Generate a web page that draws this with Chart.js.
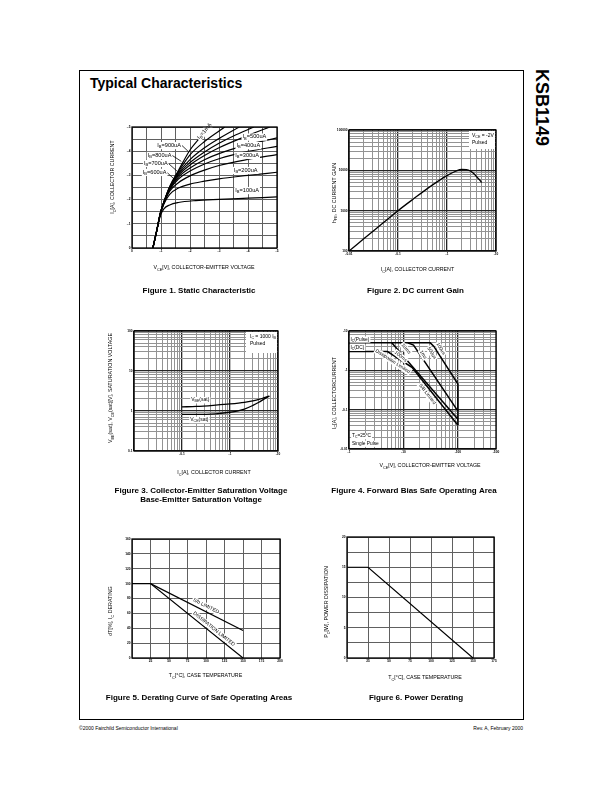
<!DOCTYPE html>
<html>
<head>
<meta charset="utf-8">
<title>KSB1149 Typical Characteristics</title>
<script src="https://cdn.jsdelivr.net/npm/chart.js@4.4.1/dist/chart.umd.min.js"></script>
<style>
  html, body { margin: 0; padding: 0; background: #fff; }
  #page { position: relative; width: 612px; height: 792px; overflow: hidden;
          font-family: "Liberation Sans", Arial, Helvetica, sans-serif; color: #000; }
  #frame { position: absolute; left: 79px; top: 70px; width: 443px; height: 648px; border: 1px solid #000; }
  #heading { position: absolute; left: 90px; top: 75px; font-size: 14px; font-weight: bold; }
  #partno { position: absolute; left: 531px; top: 69px; font-size: 18px; font-weight: bold; writing-mode: vertical-rl; }
  .foot { position: absolute; top: 725px; font-size: 5px; white-space: nowrap; }
  canvas { position: absolute; }
</style>
</head>
<body>
<div id="page">
  <div id="frame"></div>
  <div id="heading">Typical Characteristics</div>
  <div id="partno">KSB1149</div>
  <div class="foot" style="left:79px">©2000 Fairchild Semiconductor International</div>
  <div class="foot" style="right:89px">Rev. A, February 2000</div>
</div>
<script>
const FONT = '"Liberation Sans", Arial, Helvetica, sans-serif';
const GRID_LIN = '#606060';
const GRID_MINOR = '#939393';
const GRID_MAJOR = '#262626';

// ---------- Figure 1: static characteristic ----------
const ibLabels = ['100uA', '200uA', '300uA', '400uA', '500uA', '600uA', '700uA', '800uA', '900uA', '1mA'];
const ibVce = [
  [0.72, 0.85, 0.98, 1.1, 1.3, 1.6, 2.2, 3, 4, 5],
  [0.72, 0.85, 0.98, 1.1, 1.3, 1.6, 2, 2.5, 3, 4, 5],
  [0.72, 0.85, 0.98, 1.1, 1.3, 1.6, 2, 2.5, 3, 4, 5],
  [0.72, 0.85, 0.98, 1.1, 1.3, 1.6, 2, 2.5, 3, 4, 5],
  [0.72, 0.85, 0.98, 1.1, 1.3, 1.6, 2, 2.5, 3, 4, 5],
  [0.72, 0.85, 0.98, 1.1, 1.3, 1.6, 2, 2.5, 3, 4, 4.75],
  [0.72, 0.85, 0.98, 1.1, 1.3, 1.6, 2, 2.5, 3, 3.5, 4.2],
  [0.72, 0.85, 0.98, 1.1, 1.3, 1.6, 2, 2.5, 3, 3.7],
  [0.72, 0.85, 0.98, 1.1, 1.3, 1.6, 2, 2.5, 3.2],
  [0.72, 0.85, 0.98, 1.1, 1.3, 1.6, 2, 2.3, 2.65]
];
const ibIc = [
  [0, 0.07, 0.135, 0.162, 0.178, 0.188, 0.196, 0.201, 0.206, 0.211],
  [0, 0.07, 0.14, 0.182, 0.222, 0.248, 0.264, 0.276, 0.286, 0.3, 0.313],
  [0, 0.07, 0.142, 0.185, 0.235, 0.27, 0.298, 0.322, 0.341, 0.366, 0.386],
  [0, 0.07, 0.143, 0.187, 0.24, 0.285, 0.318, 0.347, 0.369, 0.399, 0.42],
  [0, 0.07, 0.144, 0.188, 0.243, 0.293, 0.331, 0.365, 0.39, 0.427, 0.455],
  [0, 0.07, 0.145, 0.189, 0.246, 0.3, 0.343, 0.382, 0.414, 0.465, 0.5],
  [0, 0.07, 0.145, 0.19, 0.248, 0.305, 0.353, 0.397, 0.433, 0.463, 0.5],
  [0, 0.07, 0.145, 0.19, 0.25, 0.31, 0.365, 0.414, 0.452, 0.5],
  [0, 0.07, 0.145, 0.19, 0.252, 0.315, 0.385, 0.44, 0.5],
  [0, 0.07, 0.145, 0.19, 0.254, 0.32, 0.405, 0.45, 0.5]
];
const staticVceGrid = [0, 0.5, 1, 1.5, 2, 2.5, 3, 3.5, 4, 4.5, 5];
const staticVceTicks = [0, 1, 2, 3, 4, 5];
const staticVceText = ['0', '-1', '-2', '-3', '-4', '-5'];
const staticIcGrid = [0, 0.05, 0.1, 0.15, 0.2, 0.25, 0.3, 0.35, 0.4, 0.45, 0.5];
const staticIcTicks = [0, 0.1, 0.2, 0.3, 0.4, 0.5];
const staticIcText = ['0', '-.1', '-.2', '-.3', '-.4', '-.5'];

// ---------- Figure 2: DC current gain ----------
const hfeIc = [0.01, 0.02, 0.05, 0.1, 0.2, 0.5, 1, 1.5, 2, 2.5, 3, 3.5, 4, 4.5, 5.1];
const hfeValues = [100, 200, 500, 1000, 1900, 4300, 7400, 9500, 10500, 10400, 9600, 8300, 7000, 6000, 5000];
const hfeIcTicks = [0.01, 0.1, 1, 10];
const hfeIcText = ['-0.01', '-0.1', '-1', '-10'];
const hfeTicks = [100, 1000, 10000, 100000];
const hfeText = ['100', '1000', '10000', '100000'];

// ---------- Figure 3: saturation voltages ----------
const satIc = [0.1, 0.2, 0.5, 1, 2, 3, 4, 5, 6.6];
const vbeSat = [1.27, 1.3, 1.4, 1.5, 1.65, 1.8, 1.95, 2.12, 2.37];
const vceSat = [0.82, 0.82, 0.85, 0.93, 1.12, 1.38, 1.65, 1.95, 2.37];
const satIcTicks = [0.1, 1, 10];
const satIcText = ['-0.1', '-1', '-10'];
const satVTicks = [0.1, 1, 10, 100];
const satVText = ['0.1', '1', '10', '100'];

// ---------- Figure 4: forward bias SOA ----------
const soaDcV = [1, 5.1, 14.3, 100];
const soaDcI = [3, 3, 1.19, 0.04];
const soa10msV = [6.1, 100];
const soa10msI = [5, 0.057];
const soa1msV = [12, 15.3, 100];
const soa1msI = [5, 4.37, 0.092];
const soa100usV = [1, 31, 35.9, 100, 100];
const soa100usI = [5, 5, 4.12, 0.45, 0.04];
const soaVTicks = [1, 10, 100, 500];
const soaVText = ['-1', '-10', '-100', '-500'];
const soaITicks = [0.01, 0.1, 1, 10];
const soaIText = ['-0.01', '-0.1', '-1', '-10'];

// ---------- Figure 5: derating of SOA ----------
const deratTemp = [0, 25, 150];
const deratDiss = [100, 100, 0];
const deratSbTemp = [25, 150];
const deratSb = [100, 37];
const deratTempGrid = [0, 25, 50, 75, 100, 125, 150, 175, 200];
const deratTempTicks = [25, 50, 75, 100, 125, 150, 175, 200];
const deratPctGrid = [0, 20, 40, 60, 80, 100, 120, 140, 160];

// ---------- Figure 6: power derating ----------
const pdTemp = [0, 25, 150];
const pdWatts = [15, 15, 0];
const pdTempGrid = [0, 25, 50, 75, 100, 125, 150, 175];
const pdWattGrid = [0, 2.5, 5, 7.5, 10, 12.5, 15, 17.5, 20];
const pdWattTicks = [0, 5, 10, 15, 20];

const figSpecs = {};

function decadeGrid(min, max) {
  const out = [];
  for (let e = Math.floor(Math.log10(min)); e <= Math.ceil(Math.log10(max)); e++) {
    for (let m = 1; m < 10; m++) {
      const v = +(m * Math.pow(10, e)).toPrecision(6);
      if (v >= min * 0.999 && v <= max * 1.001) out.push(v);
    }
  }
  if (out[out.length - 1] < max * 0.999) out.push(max);
  return out;
}

const isDecade = v => Math.abs(Math.log10(v) - Math.round(Math.log10(v))) < 1e-6;

function axis(kind, type, min, max, grid, tickAt, tickText, major) {
  return {
    type: type, min: min, max: max,
    afterBuildTicks: ax => { ax.ticks = grid.map(v => ({ value: v })); },
    afterFit: ax => { if (kind === 'x') ax.height = 8; else ax.width = 12; },
    border: { display: false },
    grid: {
      drawTicks: false,
      color: c => major ? (major(c.tick.value) ? GRID_MAJOR : GRID_MINOR) : GRID_LIN,
      lineWidth: c => (major && major(c.tick.value)) ? 1.3 : 1
    },
    ticks: {
      autoSkip: false, maxRotation: 0, minRotation: 0, padding: 1.5, color: '#000',
      font: { family: FONT, size: 3.2, weight: 'bold' },
      callback: v => {
        const i = tickAt.findIndex(t => Math.abs(t - v) <= Math.abs(t) * 1e-6 + 1e-9);
        return i < 0 ? '' : tickText[i];
      }
    }
  };
}

function series(xs, ys, width, smooth) {
  return {
    data: xs.map((x, i) => ({ x: x, y: ys[i] })),
    borderColor: '#000',
    borderWidth: width,
    pointRadius: 0,
    fill: false,
    tension: 0,
    cubicInterpolationMode: smooth ? 'monotone' : 'default'
  };
}

// text with {subscript} parts
function drawRich(ctx, str, x, y, size, o) {
  o = o || {};
  const weight = o.bold ? 'bold ' : '';
  const segs = str.split(/(\{[^}]*\})/).filter(p => p.length).map(p => {
    const sub = p.charAt(0) === '{';
    const txt = sub ? p.slice(1, -1) : p;
    const fs = sub ? size * 0.72 : size;
    ctx.font = weight + fs + 'px ' + FONT;
    return { txt: txt, sub: sub, fs: fs, w: ctx.measureText(txt).width };
  });
  const total = segs.reduce((s, g) => s + g.w, 0);
  ctx.save();
  ctx.translate(x, y);
  if (o.rot) ctx.rotate(o.rot * Math.PI / 180);
  let cx = o.align === 'left' ? 0 : o.align === 'right' ? -total : -total / 2;
  if (o.bg) {
    ctx.fillStyle = '#fff';
    ctx.fillRect(cx - 1, -size * 0.62, total + 2, size * 1.3);
  }
  ctx.fillStyle = '#000';
  ctx.textAlign = 'left';
  ctx.textBaseline = 'middle';
  segs.forEach(g => {
    ctx.font = weight + g.fs + 'px ' + FONT;
    ctx.fillText(g.txt, cx, g.sub ? size * 0.28 : 0);
    cx += g.w;
  });
  ctx.restore();
}

const sheetPlugin = {
  id: 'sheet',
  afterDatasetsDraw(chart) {
    const spec = figSpecs[chart.canvas.id];
    const ctx = chart.ctx;
    const a = chart.chartArea;
    const sx = chart.scales.x, sy = chart.scales.y;
    const box = spec.box;

    (spec.panels || []).forEach(p => {
      ctx.fillStyle = '#fff';
      ctx.fillRect(p.x - box.x, p.y - box.y, p.w, p.h);
    });
    (spec.leaders || []).forEach(l => {
      ctx.save();
      ctx.strokeStyle = '#000';
      ctx.lineWidth = 0.8;
      ctx.beginPath();
      ctx.moveTo(sx.getPixelForValue(l[0]), sy.getPixelForValue(l[1]));
      ctx.lineTo(sx.getPixelForValue(l[2]), sy.getPixelForValue(l[3]));
      ctx.stroke();
      ctx.restore();
    });
    (spec.notes || []).forEach(n => {
      drawRich(ctx, n.t, sx.getPixelForValue(n.x), sy.getPixelForValue(n.y), n.size || spec.noteSize,
        { rot: n.rot, bg: n.bg !== false, align: n.align });
    });
    (spec.pageNotes || []).forEach(n => {
      drawRich(ctx, n.t, n.x - box.x, n.y - box.y, n.size, { align: n.align });
    });

    ctx.save();
    ctx.strokeStyle = '#000';
    ctx.lineWidth = 1.3;
    ctx.strokeRect(Math.round(a.left), Math.round(a.top), Math.round(a.right) - Math.round(a.left), Math.round(a.bottom) - Math.round(a.top));
    ctx.restore();
  },
  afterDraw(chart) {
    const spec = figSpecs[chart.canvas.id];
    const ctx = chart.ctx;
    const box = spec.box;
    (spec.titles || []).forEach(t => {
      drawRich(ctx, t.t, t.x - box.x, t.y - box.y, t.size || 5.3, { rot: t.rot, bold: t.bold });
    });
  }
};

function buildFigure(id, box, plot, datasets, xAxis, yAxis, spec) {
  const cv = document.createElement('canvas');
  cv.id = id;
  cv.width = box.w;
  cv.height = box.h;
  cv.style.left = box.x + 'px';
  cv.style.top = box.y + 'px';
  document.getElementById('page').appendChild(cv);
  spec.box = box;
  figSpecs[id] = spec;
  return new Chart(cv.getContext('2d'), {
    type: 'line',
    data: { datasets: datasets },
    options: {
      responsive: false,
      animation: false,
      devicePixelRatio: 1,
      layout: {
        padding: {
          left: plot.l - box.x - 12,
          top: plot.t - box.y,
          right: box.x + box.w - plot.l - plot.w,
          bottom: box.y + box.h - plot.t - plot.h - 8
        }
      },
      plugins: { legend: { display: false }, tooltip: { enabled: false } },
      scales: { x: xAxis, y: yAxis }
    },
    plugins: [sheetPlugin]
  });
}

// Figure 1
buildFigure('fig1', { x: 95, y: 115, w: 205, h: 185 }, { l: 132, t: 127, w: 145, h: 121 },
  ibVce.map((v, i) => series(v, ibIc[i], 1.2, true)),
  axis('x', 'linear', 0, 5, staticVceGrid, staticVceTicks, staticVceText, null),
  axis('y', 'linear', 0, 0.5, staticIcGrid, staticIcTicks, staticIcText, null),
  {
    noteSize: 5.6,
    notes: [
      { t: 'I{B}=' + ibLabels[9], x: 2.5, y: 0.483, rot: -50 },
      { t: 'I{B}=' + ibLabels[8], x: 1.28, y: 0.424 },
      { t: 'I{B}=' + ibLabels[7], x: 0.95, y: 0.383 },
      { t: 'I{B}=' + ibLabels[6], x: 0.82, y: 0.35 },
      { t: 'I{B}=' + ibLabels[5], x: 0.78, y: 0.313 },
      { t: 'I{B}=' + ibLabels[4], x: 4.22, y: 0.459 },
      { t: 'I{B}=' + ibLabels[3], x: 4.01, y: 0.424 },
      { t: 'I{B}=' + ibLabels[2], x: 3.97, y: 0.383 },
      { t: 'I{B}=' + ibLabels[1], x: 3.92, y: 0.321 },
      { t: 'I{B}=' + ibLabels[0], x: 3.97, y: 0.238 }
    ],
    leaders: [[1.72, 0.424, 1.93, 0.4], [1.38, 0.383, 1.7, 0.358], [1.25, 0.35, 1.55, 0.318], [1.2, 0.313, 1.45, 0.285]],
    titles: [
      { t: 'V{CE}[V], COLLECTOR-EMITTER VOLTAGE', x: 204, y: 268 },
      { t: 'I{C}[A], COLLECTOR CURRENT', x: 113, y: 177, rot: -90 },
      { t: 'Figure 1. Static Characteristic', x: 199, y: 291, size: 8, bold: true }
    ]
  });

// Figure 2
buildFigure('fig2', { x: 300, y: 115, w: 220, h: 185 }, { l: 349, t: 130, w: 147, h: 121 },
  [series(hfeIc, hfeValues, 1.3, true)],
  axis('x', 'logarithmic', 0.01, 10, decadeGrid(0.01, 10), hfeIcTicks, hfeIcText, isDecade),
  axis('y', 'logarithmic', 100, 100000, decadeGrid(100, 100000), hfeTicks, hfeText, isDecade),
  {
    panels: [{ x: 469, y: 131, w: 26, h: 18 }],
    pageNotes: [
      { t: 'V{CE} = -2V', x: 472, y: 135.5, size: 5, align: 'left' },
      { t: 'Pulsed', x: 472, y: 142.5, size: 5, align: 'left' }
    ],
    titles: [
      { t: 'I{C}[A], COLLECTOR CURRENT', x: 417.5, y: 270 },
      { t: 'h{FE}, DC CURRENT GAIN', x: 334.5, y: 193, rot: -90 },
      { t: 'Figure 2. DC current Gain', x: 415.5, y: 291, size: 8, bold: true }
    ]
  });

// Figure 3
buildFigure('fig3', { x: 95, y: 318, w: 205, h: 190 }, { l: 134, t: 331, w: 144, h: 120 },
  [series(satIc, vbeSat, 1.3, true), series(satIc, vceSat, 1.3, true)],
  axis('x', 'logarithmic', 0.01, 10, decadeGrid(0.01, 10), satIcTicks, satIcText, isDecade),
  axis('y', 'logarithmic', 0.1, 100, decadeGrid(0.1, 100), satVTicks, satVText, isDecade),
  {
    noteSize: 5,
    notes: [
      { t: 'V{BE}(sat)', x: 0.24, y: 1.88 },
      { t: 'V{CE}(sat)', x: 0.23, y: 0.6 }
    ],
    panels: [{ x: 246, y: 332, w: 31, h: 21 }],
    pageNotes: [
      { t: 'I{C} = 1000 I{B}', x: 250, y: 337, size: 5, align: 'left' },
      { t: 'Pulsed', x: 250, y: 344, size: 5, align: 'left' }
    ],
    titles: [
      { t: 'I{C}[A], COLLECTOR CURRENT', x: 214, y: 473 },
      { t: 'V{BE}(sat), V{CE}(sat)[V], SATURATION VOLTAGE', x: 111, y: 388, rot: -90 },
      { t: 'Figure 3. Collector-Emitter Saturation Voltage', x: 201, y: 491, size: 8, bold: true },
      { t: 'Base-Emitter Saturation Voltage', x: 201, y: 500, size: 8, bold: true }
    ]
  });

// Figure 4
buildFigure('fig4', { x: 300, y: 318, w: 220, h: 190 }, { l: 349, t: 331, w: 147, h: 118 },
  [series(soaDcV, soaDcI, 1.5, false), series(soa10msV, soa10msI, 1.5, false),
   series(soa1msV, soa1msI, 1.5, false), series(soa100usV, soa100usI, 1.5, false)],
  axis('x', 'logarithmic', 1, 500, decadeGrid(1, 500), soaVTicks, soaVText, isDecade),
  axis('y', 'logarithmic', 0.01, 10, decadeGrid(0.01, 10), soaITicks, soaIText, isDecade),
  {
    noteSize: 4.8,
    notes: [
      { t: 'I{C}(Pulse)', x: 1.06, y: 6.1, align: 'left' },
      { t: 'I{C}(DC)', x: 1.06, y: 3.75, align: 'left' },
      { t: 'Dissipation Limited', x: 6.35, y: 1.7, rot: 33 },
      { t: 'S/B Limited', x: 27.4, y: 0.25, rot: 52 },
      { t: '100ms', x: 8.9, y: 2.27, rot: 40 },
      { t: '10ms', x: 11.1, y: 3.55, rot: 50 },
      { t: '1ms', x: 23.1, y: 2.5, rot: 60 },
      { t: '500us', x: 33, y: 2.76, rot: 60 },
      { t: '100us', x: 48.3, y: 3.55, rot: 60 },
      { t: 'T{C}=25°C', x: 1.14, y: 0.0214, align: 'left' },
      { t: 'Single Pulse', x: 1.14, y: 0.0137, align: 'left' }
    ],
    titles: [
      { t: 'V{CE}[V], COLLECTOR-EMITTER VOLTAGE', x: 430, y: 466 },
      { t: 'I{C}[A], COLLECTORCURRENT', x: 334.5, y: 393, rot: -90 },
      { t: 'Figure 4. Forward Bias Safe Operating Area', x: 414, y: 491, size: 8, bold: true }
    ]
  });

// Figure 5
buildFigure('fig5', { x: 95, y: 527, w: 205, h: 181 }, { l: 132, t: 539, w: 148, h: 119 },
  [series(deratTemp, deratDiss, 1.2, false), series(deratSbTemp, deratSb, 1.2, false)],
  axis('x', 'linear', 0, 200, deratTempGrid, deratTempTicks, deratTempTicks.map(String), null),
  axis('y', 'linear', 0, 160, deratPctGrid, deratPctGrid, deratPctGrid.map(String), null),
  {
    noteSize: 5,
    notes: [
      { t: 'S/b LIMITED', x: 100, y: 70, rot: 26.9 },
      { t: 'DISSIPATION LIMITED', x: 110.8, y: 39, rot: 38.8 }
    ],
    titles: [
      { t: 'T{C}[°C], CASE TEMPERATURE', x: 205.5, y: 676 },
      { t: 'dT[%], I{C} DERATING', x: 111, y: 611, rot: -90 },
      { t: 'Figure 5. Derating Curve of Safe Operating Areas', x: 199, y: 698, size: 8, bold: true }
    ]
  });

// Figure 6
buildFigure('fig6', { x: 300, y: 527, w: 220, h: 181 }, { l: 347, t: 537, w: 147, h: 121 },
  [series(pdTemp, pdWatts, 1.2, false)],
  axis('x', 'linear', 0, 175, pdTempGrid, pdTempGrid, pdTempGrid.map(String), null),
  axis('y', 'linear', 0, 20, pdWattGrid, pdWattTicks, pdWattTicks.map(String), null),
  {
    titles: [
      { t: 'T{C}[°C], CASE TEMPERATURE', x: 425, y: 678 },
      { t: 'P{C}[W], POWER DISSIPATION', x: 327, y: 602, rot: -90 },
      { t: 'Figure 6. Power Derating', x: 416, y: 698, size: 8, bold: true }
    ]
  });
</script>
</body>
</html>
